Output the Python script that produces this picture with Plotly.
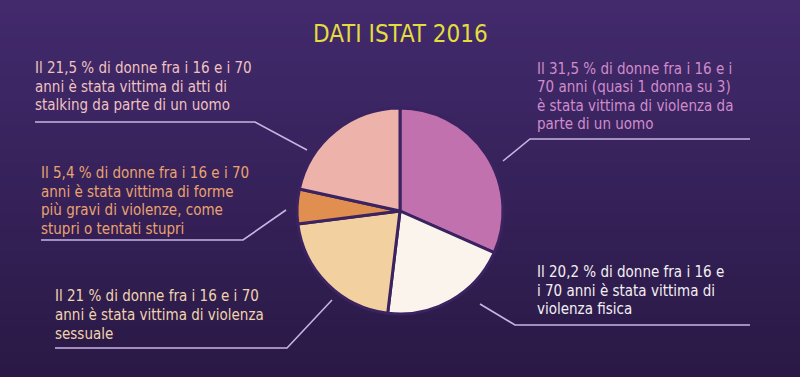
import plotly.graph_objects as go

# ---- data ----
labels = ["Violenza da parte di un uomo", "Violenza fisica", "Violenza sessuale",
          "Stupri o tentati stupri", "Stalking"]
values = [31.5, 20.2, 21.0, 5.4, 21.5]
colors = ["#C271AF", "#FBF4EC", "#F2D09F", "#E08F50", "#EDB3AA"]
title_text = "DATI ISTAT 2016"
notes = [
    ["Il 31,5 % di donne fra i 16 e i", "70 anni (quasi 1 donna su 3)",
     "è stata vittima di violenza da", "parte di un uomo"],
    ["Il 20,2 % di donne fra i 16 e", "i 70 anni è stata vittima di", "violenza fisica"],
    ["Il 21 % di donne fra i 16 e i 70", "anni è stata vittima di violenza", "sessuale"],
    ["Il 5,4 % di donne fra i 16 e i 70", "anni è stata vittima di forme",
     "più gravi di violenze, come", "stupri o tentati stupri"],
    ["Il 21,5 % di donne fra i 16 e i 70", "anni è stata vittima di atti di",
     "stalking da parte di un uomo"],
]
note_colors = ["#D08CCB", "#F3EFF2", "#F1D3AE", "#E9A271", "#F0C2C0"]

W, H = 800, 377
BG = "#38225C"

def px(x):
    return x / W

def py(y):
    return 1 - y / H

fig = go.Figure()
fig.add_trace(go.Pie(
    labels=labels, values=values, sort=False, direction="clockwise", rotation=0,
    marker=dict(colors=colors, line=dict(color="#3A2360", width=3)),
    textinfo="none", hoverinfo="label+percent", showlegend=False,
    domain=dict(x=[px(400 - 103), px(400 + 103)], y=[py(211 + 103), py(211 - 103)]),
))

shapes = []
# background gradient bands
top = (0x42, 0x2A, 0x6C)
bot = (0x2A, 0x19, 0x46)
n = 30
for i in range(n):
    t = i / (n - 1)
    c = tuple(int(round(top[k] + (bot[k] - top[k]) * t)) for k in range(3))
    shapes.append(dict(type="rect", xref="paper", yref="paper",
                       x0=0, x1=1, y0=1 - (i + 1) / n - 0.002, y1=1 - i / n,
                       fillcolor="rgb(%d,%d,%d)" % c, line=dict(width=0), layer="below"))

# leader lines (pixel coords)
leaders = [
    [(750, 139), (530, 139), (503, 161)],
    [(750, 325), (515, 325), (480, 304)],
    [(55, 348), (287, 348), (332, 300)],
    [(41, 240), (243, 240), (286, 210)],
    [(35, 122), (255, 122), (307, 150)],
]
for pts in leaders:
    path = "M " + " L ".join("%f,%f" % (px(x), py(y)) for x, y in pts)
    shapes.append(dict(type="path", xref="paper", yref="paper", path=path,
                       line=dict(color="#C9B4E2", width=1.6)))

font_family = "DejaVu Sans Condensed, DejaVu Sans, sans-serif"
# (left x, block centre y) in pixels
note_pos = [(536, 96.5), (536, 290.5), (54, 315), (40, 201), (34, 86.5)]
DY = 18.6
annotations = []
for lines, col, (x, yc) in zip(notes, note_colors, note_pos):
    y0 = yc - (len(lines) - 1) * DY / 2
    for j, line in enumerate(lines):
        annotations.append(dict(text=line, x=px(x), y=py(y0 + j * DY), xref="paper", yref="paper",
                                xanchor="left", yanchor="middle", align="left", showarrow=False,
                                borderpad=0,
                                font=dict(family=font_family, size=15, color=col)))
annotations.append(dict(text=title_text, x=0.5, y=py(34), xref="paper", yref="paper",
                        xanchor="center", yanchor="middle", showarrow=False,
                        font=dict(family="DejaVu Sans Condensed, sans-serif", size=24,
                                  color="#E4DD3E")))

fig.update_layout(width=W, height=H, margin=dict(l=0, r=0, t=0, b=0),
                  paper_bgcolor=BG, plot_bgcolor=BG,
                  shapes=shapes, annotations=annotations)
fig.write_html("out.html", config={"displayModeBar": False},
               post_script="document.body.style.margin='0';")
